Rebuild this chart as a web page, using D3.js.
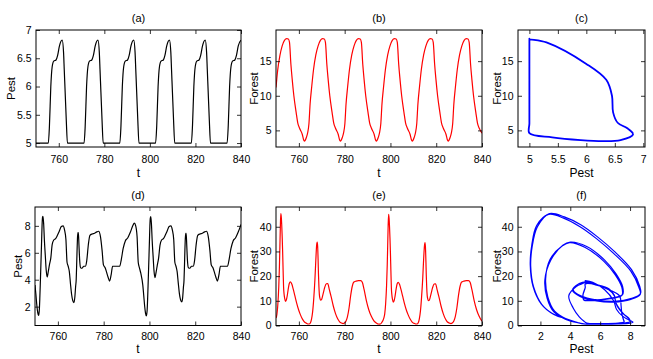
<!DOCTYPE html>
<html>
<head>
<meta charset="utf-8">
<script src="https://cdn.jsdelivr.net/npm/d3@7"></script>
<style>
  body { margin: 0; background: #fff; }
  svg text { font-family: "Liberation Sans", Arial, Helvetica, sans-serif; fill: #000; }
</style>
</head>
<body>
<svg id="canvas" width="653" height="359"></svg>
<script>
        // ---- periodic regime (panels a, b, c) ----
        const tAB = [750.0, 750.7, 751.7, 752.7, 753.7, 754.7,
            755.4, 755.9, 756.5, 757.1, 757.8, 758.8, 759.5, 760.3, 761.5, 762.1, 762.4, 762.8, 763.3, 763.8, 764.4, 764.9, 765.6, 766.4, 767.4, 768.4, 769.4, 770.4,
            771.1, 771.6, 772.2, 772.8, 773.5, 774.5, 775.2, 776.0, 777.2, 777.8, 778.1, 778.5, 779.0, 779.5, 780.1, 780.6, 781.3, 782.1, 783.1, 784.1, 785.1, 786.1,
            786.8, 787.3, 787.9, 788.5, 789.2, 790.2, 790.9, 791.7, 792.9, 793.5, 793.8, 794.2, 794.7, 795.2, 795.8, 796.3, 797.0, 797.8, 798.8, 799.8, 800.8, 801.8,
            802.5, 803.0, 803.6, 804.2, 804.9, 805.9, 806.6, 807.4, 808.6, 809.2, 809.5, 809.9, 810.4, 810.9, 811.5, 812.0, 812.7, 813.5, 814.5, 815.5, 816.5, 817.5,
            818.2, 818.7, 819.3, 819.9, 820.6, 821.6, 822.3, 823.1, 824.3, 824.9, 825.2, 825.6, 826.1, 826.6, 827.2, 827.7, 828.4, 829.2, 830.2, 831.2, 832.2, 833.2,
            833.9, 834.4, 835.0, 835.6, 836.3, 837.3, 838.0, 838.8, 840.0];
        const pestAB = [5.0, 5.0, 5.0, 5.0, 5.0, 5.0,
            5.0, 5.3, 6.0, 6.35, 6.45, 6.47, 6.55, 6.72, 6.82, 6.6, 6.3, 5.9, 5.4, 5.0, 5.0, 5.0, 5.0, 5.0, 5.0, 5.0, 5.0, 5.0,
            5.0, 5.3, 6.0, 6.35, 6.45, 6.47, 6.55, 6.72, 6.82, 6.6, 6.3, 5.9, 5.4, 5.0, 5.0, 5.0, 5.0, 5.0, 5.0, 5.0, 5.0, 5.0,
            5.0, 5.3, 6.0, 6.35, 6.45, 6.47, 6.55, 6.72, 6.82, 6.6, 6.3, 5.9, 5.4, 5.0, 5.0, 5.0, 5.0, 5.0, 5.0, 5.0, 5.0, 5.0,
            5.0, 5.3, 6.0, 6.35, 6.45, 6.47, 6.55, 6.72, 6.82, 6.6, 6.3, 5.9, 5.4, 5.0, 5.0, 5.0, 5.0, 5.0, 5.0, 5.0, 5.0, 5.0,
            5.0, 5.3, 6.0, 6.35, 6.45, 6.47, 6.55, 6.72, 6.82, 6.6, 6.3, 5.9, 5.4, 5.0, 5.0, 5.0, 5.0, 5.0, 5.0, 5.0, 5.0, 5.0,
            5.0, 5.3, 6.0, 6.35, 6.45, 6.47, 6.55, 6.72, 6.82];
        const forestAB = [11.2, 13.6, 15.8, 17.2, 18.0, 18.25,
            18.2, 17.7, 14.6, 12.3, 10.0, 7.6, 6.1, 5.3, 4.4, 3.6, 3.45, 3.6, 4.0, 4.6, 6.0, 8.8, 11.3, 13.8, 15.9, 17.2, 18.0, 18.25,
            18.2, 17.7, 14.6, 12.3, 10.0, 7.6, 6.1, 5.3, 4.4, 3.6, 3.45, 3.6, 4.0, 4.6, 6.0, 8.8, 11.3, 13.8, 15.9, 17.2, 18.0, 18.25,
            18.2, 17.7, 14.6, 12.3, 10.0, 7.6, 6.1, 5.3, 4.4, 3.6, 3.45, 3.6, 4.0, 4.6, 6.0, 8.8, 11.3, 13.8, 15.9, 17.2, 18.0, 18.25,
            18.2, 17.7, 14.6, 12.3, 10.0, 7.6, 6.1, 5.3, 4.4, 3.6, 3.45, 3.6, 4.0, 4.6, 6.0, 8.8, 11.3, 13.8, 15.9, 17.2, 18.0, 18.25,
            18.2, 17.7, 14.6, 12.3, 10.0, 7.6, 6.1, 5.3, 4.4, 3.6, 3.45, 3.6, 4.0, 4.6, 6.0, 8.8, 11.3, 13.8, 15.9, 17.2, 18.0, 18.25,
            18.2, 17.7, 14.6, 12.3, 10.0, 7.6, 6.1, 5.3, 4.6];

        // ---- chaotic regime (panels d, e, f) ----
        const tDE = [750.0, 750.4, 750.8, 751.2, 751.5, 751.7, 751.9, 752.1, 752.3, 752.5,
            752.7, 752.9, 753.1, 753.3, 753.5, 753.8, 754.1, 754.5, 754.9, 755.3,
            755.8, 756.3, 756.9, 757.5, 758.2, 759.0, 759.8, 760.6, 761.5, 762.3,
            762.9, 763.5, 764.0, 764.5, 765.0, 765.5, 766.0, 766.5, 767.0, 767.4,
            767.75, 768.0, 768.2, 768.4, 768.55, 768.75, 768.95, 769.2, 769.5, 769.9,
            770.5, 771.3, 772.0, 772.6, 773.3, 774.0, 775.0, 776.0, 777.0, 777.8,
            778.6, 779.3, 779.9, 780.6, 781.2, 781.9, 782.6, 783.3, 783.9, 785.0,
            786.0, 787.0, 787.7, 788.5, 789.5, 790.5, 791.6, 792.7, 793.4, 794.0,
            794.6, 795.1, 795.6, 796.2,
            797.1, 797.5, 797.9, 798.3, 798.6, 798.8, 799.0, 799.2, 799.4, 799.6,
            799.8, 800.0, 800.2, 800.4, 800.6, 800.9, 801.2, 801.6, 802.0, 802.4,
            802.9, 803.4, 804.0, 804.6, 805.3, 806.1, 806.9, 807.7, 808.6, 809.4,
            810.0, 810.6, 811.1, 811.6, 812.1, 812.6, 813.1, 813.6, 814.1, 814.5,
            814.85, 815.1, 815.3, 815.5, 815.65, 815.85, 816.05, 816.3, 816.6, 817.0,
            817.6, 818.4, 819.1, 819.7, 820.4, 821.1, 822.1, 823.1, 824.1, 824.9,
            825.7, 826.4, 827.0, 827.7, 828.3, 829.0, 829.7, 830.4, 831.0, 832.1,
            833.1, 834.1, 834.8, 835.6, 836.6, 837.6, 838.7, 839.8, 840.0];
        const pestDE = [3.6, 2.9, 2.1, 1.55, 1.35, 1.45, 1.8, 2.6, 3.6, 4.7,
            5.8, 6.95, 8.1, 8.65, 8.7, 8.1, 6.95, 5.8, 4.7, 4.2,
            4.6, 5.1, 5.6, 6.6, 6.95, 7.05, 7.3, 7.6, 7.95, 8.0,
            7.7, 7.0, 5.3, 5.0, 4.6, 3.7, 2.9, 2.45, 2.3, 2.7,
            3.5, 4.0, 5.1, 6.3, 7.05, 7.5, 7.5, 6.6, 5.5, 4.9,
            4.85, 5.0, 5.0, 5.4, 6.6, 7.3, 7.4, 7.45, 7.55, 7.6,
            7.2, 6.2, 5.1, 4.9, 4.6, 4.2, 3.9, 4.4, 5.0, 5.0,
            5.0, 5.0, 5.5, 6.3, 6.9, 7.1, 7.5, 8.0, 8.2, 8.0,
            7.2, 5.3, 4.9, 4.5,
            3.6, 2.85, 2.05, 1.5, 1.32, 1.42, 1.75, 2.55, 3.55, 4.65,
            5.75, 6.9, 8.05, 8.6, 8.68, 8.05, 6.9, 5.75, 4.65, 4.15,
            4.55, 5.05, 5.6, 6.55, 6.95, 7.05, 7.3, 7.6, 7.95, 8.0,
            7.7, 7.0, 5.3, 5.0, 4.6, 3.75, 2.95, 2.5, 2.35, 2.65,
            3.45, 3.95, 5.0, 6.25, 7.0, 7.45, 7.45, 6.55, 5.45, 4.9,
            4.85, 5.0, 5.0, 5.4, 6.6, 7.3, 7.4, 7.45, 7.55, 7.6,
            7.2, 6.2, 5.1, 4.9, 4.6, 4.2, 3.9, 4.4, 5.0, 5.0,
            5.0, 5.0, 5.5, 6.3, 6.9, 7.1, 7.5, 8.0, 8.1];
        const forestDE = [3.0, 4.5, 8.5, 15.5, 24.0, 32.0, 40.0, 45.3, 44.0, 40.8,
            36.0, 30.0, 22.6, 15.8, 13.0, 11.0, 9.8, 10.3, 12.0, 14.5,
            17.0, 17.7, 16.8, 14.8, 12.2, 9.2, 6.6, 4.5, 2.7, 1.6,
            1.1, 0.8, 0.6, 0.6, 1.0, 2.5, 5.5, 11.0, 18.5, 26.5,
            32.5, 33.8, 32.0, 26.5, 21.0, 15.8, 12.5, 11.0, 10.3, 10.5,
            12.5, 15.5, 16.9, 17.0, 14.5, 12.0, 8.0, 4.8, 2.6, 1.5,
            1.0, 0.8, 1.0, 1.8, 3.5, 7.0, 12.0, 15.8, 17.5, 18.0,
            18.2, 18.2, 17.5, 14.5, 10.0, 6.5, 3.8, 2.0, 1.3, 0.9,
            0.6, 0.55, 0.6, 1.2,
            3.0, 4.7, 8.8, 16.0, 24.5, 32.5, 40.5, 45.0, 43.5, 40.0,
            35.2, 29.2, 22.0, 15.3, 12.6, 10.6, 9.5, 10.0, 11.8, 14.3,
            16.8, 17.5, 16.6, 14.6, 12.0, 9.0, 6.4, 4.4, 2.6, 1.5,
            1.0, 0.8, 0.6, 0.6, 1.0, 2.6, 5.8, 11.5, 19.0, 26.8,
            32.2, 33.6, 31.6, 26.0, 20.6, 15.4, 12.2, 10.8, 10.1, 10.3,
            12.3, 15.3, 16.8, 16.9, 14.4, 11.9, 7.9, 4.7, 2.5, 1.4,
            1.0, 0.8, 1.0, 1.8, 3.5, 7.0, 12.0, 15.8, 17.5, 18.0,
            18.2, 18.2, 17.5, 14.5, 10.0, 6.5, 3.8, 2.0, 1.8];

        // tick labels
        const tTicks = [760, 780, 800, 820, 840];
        const pestTicksA = [5, 5.5, 6, 6.5, 7];
        const forestTicksB = [5, 10, 15];
        const pestTicksD = [2, 4, 6, 8];
        const forestTicksE = [0, 10, 20, 30, 40];
        const pestTicksF = [2, 4, 6, 8];

        const svg = d3.select("#canvas");
        const FONT = 10.5;

        function drawPanel(cfg) {
            const g = svg.append("g");
            const x = d3.scaleLinear().domain(cfg.xDomain).range([cfg.left, cfg.right]);
            const y = d3.scaleLinear().domain(cfg.yDomain).range([cfg.bottom, cfg.top]);

            const clipId = "clip-" + cfg.id;
            svg.append("clipPath").attr("id", clipId)
                .append("rect")
                .attr("x", cfg.left).attr("y", cfg.top)
                .attr("width", cfg.right - cfg.left).attr("height", cfg.bottom - cfg.top);

            const pts = cfg.xs.map((v, i) => [v, cfg.ys[i]]);
            const line = d3.line()
                .x(d => x(d[0]))
                .y(d => y(d[1]))
                .curve(cfg.curve);

            g.append("path")
                .datum(pts)
                .attr("clip-path", `url(#${clipId})`)
                .attr("fill", "none")
                .attr("stroke", cfg.color)
                .attr("stroke-width", cfg.lineWidth)
                .attr("stroke-linejoin", "round")
                .attr("d", line);

            const fmt = d => String(d);

            // bottom + top
            const bx = g.append("g").attr("transform", `translate(0,${cfg.bottom})`)
                .call(d3.axisBottom(x).tickValues(cfg.xTicks).tickFormat(fmt).tickSizeInner(-4).tickSizeOuter(0).tickPadding(cfg.xPad));
            const tx = g.append("g").attr("transform", `translate(0,${cfg.top})`)
                .call(d3.axisTop(x).tickValues(cfg.xTicks).tickFormat("").tickSizeInner(-4).tickSizeOuter(0));
            // left + right
            const ly = g.append("g").attr("transform", `translate(${cfg.left},0)`)
                .call(d3.axisLeft(y).tickValues(cfg.yTicks).tickFormat(fmt).tickSizeInner(-4).tickSizeOuter(0).tickPadding(4.5));
            const ry = g.append("g").attr("transform", `translate(${cfg.right},0)`)
                .call(d3.axisRight(y).tickValues(cfg.yTicks).tickFormat("").tickSizeInner(-4).tickSizeOuter(0));

            [bx, tx, ly, ry].forEach(a => {
                a.select(".domain").remove();
                a.attr("font-size", FONT).attr("font-family", null);
                a.selectAll("line").attr("stroke", "#000").attr("stroke-width", 0.8);
            });

            g.append("rect")
                .attr("x", cfg.left).attr("y", cfg.top)
                .attr("width", cfg.right - cfg.left).attr("height", cfg.bottom - cfg.top)
                .attr("fill", "none").attr("stroke", "#000").attr("stroke-width", 1);

            const cx = (cfg.left + cfg.right) / 2;
            g.append("text").attr("x", cx).attr("y", cfg.titleY)
                .attr("text-anchor", "middle").attr("font-size", 11).text(cfg.title);
            g.append("text").attr("x", cx).attr("y", cfg.xLabelY)
                .attr("text-anchor", "middle").attr("font-size", 12).text(cfg.xLabel);
            g.append("text")
                .attr("transform", `translate(${cfg.yLabelX},${(cfg.top + cfg.bottom) / 2}) rotate(-90)`)
                .attr("text-anchor", "middle").attr("dy", "0.35em")
                .attr("font-size", 11.5).text(cfg.yLabel);
        }

        const phaseCurve = d3.curveCatmullRom.alpha(0.5);

        const top1 = 30, bot1 = 147, top2 = 207, bot2 = 325.5;

        drawPanel({ id: "a", left: 36, right: 241, top: top1, bottom: bot1,
            xDomain: [750, 840], yDomain: [4.93, 7], xTicks: tTicks, yTicks: pestTicksA,
            xs: tAB, ys: pestAB, color: "#000", lineWidth: 1.2, curve: d3.curveMonotoneX,
            title: "(a)", titleY: 22, xLabel: "t", xLabelY: 177, yLabel: "Pest", yLabelX: 11, xPad: 8.5 });
        drawPanel({ id: "b", left: 276, right: 482, top: top1, bottom: bot1,
            xDomain: [750, 840], yDomain: [2.6, 19.5], xTicks: tTicks, yTicks: forestTicksB,
            xs: tAB, ys: forestAB, color: "#ff0000", lineWidth: 1.2, curve: d3.curveMonotoneX,
            title: "(b)", titleY: 22, xLabel: "t", xLabelY: 177, yLabel: "Forest", yLabelX: 254, xPad: 8.5 });
        drawPanel({ id: "c", left: 518, right: 645, top: top1, bottom: bot1,
            xDomain: [4.8, 7.03], yDomain: [2.6, 19.5], xTicks: pestTicksA, yTicks: forestTicksB,
            xs: pestAB, ys: forestAB, color: "#0000ff", lineWidth: 1.8, curve: phaseCurve,
            title: "(c)", titleY: 22, xLabel: "Pest", xLabelY: 177, yLabel: "Forest", yLabelX: 497, xPad: 8.5 });

        drawPanel({ id: "d", left: 35, right: 241, top: top2, bottom: bot2,
            xDomain: [750, 840], yDomain: [0.6, 9.4], xTicks: tTicks, yTicks: pestTicksD,
            xs: tDE, ys: pestDE, color: "#000", lineWidth: 1.2, curve: d3.curveMonotoneX,
            title: "(d)", titleY: 199, xLabel: "t", xLabelY: 353, yLabel: "Pest", yLabelX: 18, xPad: 7 });
        drawPanel({ id: "e", left: 276, right: 482, top: top2, bottom: bot2,
            xDomain: [750, 840], yDomain: [0, 48], xTicks: tTicks, yTicks: forestTicksE,
            xs: tDE, ys: forestDE, color: "#ff0000", lineWidth: 1.2, curve: d3.curveMonotoneX,
            title: "(e)", titleY: 199, xLabel: "t", xLabelY: 353, yLabel: "Forest", yLabelX: 254, xPad: 7 });
        drawPanel({ id: "f", left: 518, right: 645, top: top2, bottom: bot2,
            xDomain: [0.5, 9.0], yDomain: [0, 48], xTicks: pestTicksF, yTicks: forestTicksE,
            xs: pestDE, ys: forestDE, color: "#0000ff", lineWidth: 1.2, curve: phaseCurve,
            title: "(f)", titleY: 199, xLabel: "Pest", xLabelY: 353, yLabel: "Forest", yLabelX: 497, xPad: 7 });
</script>
</body>
</html>
